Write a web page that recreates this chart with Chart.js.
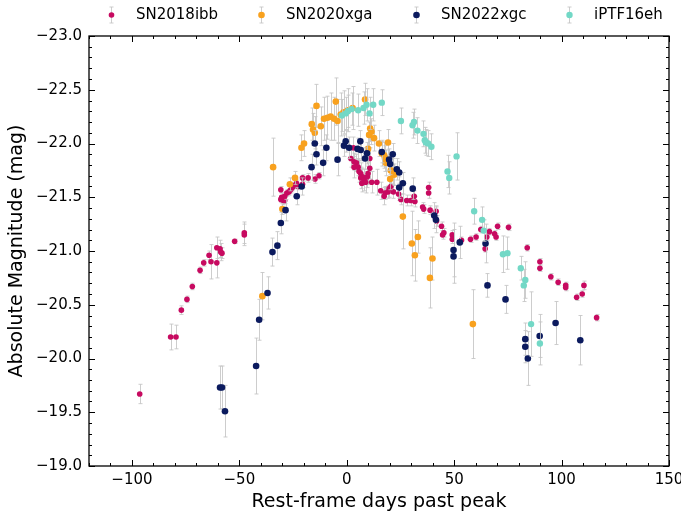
<!DOCTYPE html>
<html>
<head>
<meta charset="utf-8">
<script src="https://cdn.jsdelivr.net/npm/chart.js@4.4.0/dist/chart.umd.min.js"></script>
<style>
  html, body { margin: 0; padding: 0; background: #fff; }
</style>
</head>
<body>
<canvas id="lc" width="681" height="517"></canvas>
<script>
// light curves (days past peak, abs mag, 1-sigma)
var names = ["SN2018ibb", "SN2020xga", "SN2022xgc", "iPTF16eh"];
var colors = ["#c70a60", "#f8a11e", "#0b1a5e", "#72d8c6"];

var ibbDays = [-96.4,-82.0,-79.5,-77.0,-74.4,-71.9,-68.3,-66.6,-64.1,-63.2,-60.5,-60.5,-59.0,-58.7,-58.1,-52.2,-47.7,-47.7,
  -30.7,-30.3,-29.5,-28.9,-27.9,-26.9,-26.1,-25.3,-24.5,-23.4,-22.7,-20.6,-20.6,-18.0,-14.8,-12.9,-30.7,-28.9,
  1.9,3.1,3.4,4.5,3.4,5.3,5.7,6.5,6.5,7.3,8.1,7.0,8.8,9.6,10.7,10.7,9.9,11.6,14.0,15.8,
  17.4,17.8,19.2,19.7,20.5,21.7,24.1,25.2,27.9,29.8,31.7,31.4,35.3,35.8,38.1,38.1,38.8,41.6,41.8,44.1,
  44.6,45.2,49.1,49.1,53.4,57.6,60.2,62.4,64.4,65.2,66.4,68.8,69.5,70.2,75.3,84.0,89.9,89.9,95.0,98.4,
  101.9,101.9,107.0,109.6,110.4,116.3];
var ibbMag = [-19.67,-20.20,-20.20,-20.45,-20.55,-20.67,-20.82,-20.89,-20.96,-20.90,-21.03,-20.89,-21.02,-20.99,-20.98,-21.09,-21.17,-21.15,
  -21.57,-21.50,-21.47,-21.51,-21.54,-21.55,-21.57,-21.59,-21.61,-21.63,-21.60,-21.68,-21.62,-21.68,-21.67,-21.70,-21.48,-21.47,
  -21.86,-21.96,-21.83,-21.82,-21.78,-21.78,-21.74,-21.72,-21.68,-21.69,-21.66,-21.63,-21.64,-21.69,-21.77,-21.86,-21.72,-21.64,-21.64,-21.56,
  -21.51,-21.54,-21.55,-21.58,-21.60,-21.55,-21.53,-21.48,-21.47,-21.47,-21.46,-21.51,-21.41,-21.39,-21.59,-21.54,-21.38,-21.37,-21.28,-21.23,
  -21.15,-21.17,-21.15,-21.11,-21.10,-21.11,-21.13,-21.20,-21.02,-21.13,-21.18,-21.16,-21.13,-21.23,-21.22,-21.03,-20.90,-20.84,-20.76,-20.71,
  -20.68,-20.66,-20.57,-20.60,-20.68,-20.38];
var ibbErr = [0.09,0.12,0.11,0.04,0.03,0.03,0.03,0.03,0.04,0.16,0.1,0.14,0.08,0.08,0.05,0.02,0.1,0.1,
  0.03,0.04,0.04,0.03,0.03,0.03,0.03,0.03,0.03,0.03,0.03,0.03,0.03,0.04,0.04,0.03,0.03,0.03,
  0.08,0.1,0.08,0.08,0.1,0.08,0.1,0.1,0.1,0.08,0.1,0.08,0.1,0.1,0.1,0.1,0.1,0.1,0.12,0.08,
  0.08,0.06,0.06,0.08,0.06,0.06,0.06,0.05,0.05,0.05,0.05,0.05,0.04,0.04,0.05,0.05,0.04,0.05,0.05,0.04,
  0.04,0.04,0.04,0.04,0.03,0.03,0.03,0.03,0.03,0.03,0.03,0.03,0.03,0.03,0.03,0.03,0.03,0.03,0.03,0.03,
  0.03,0.03,0.03,0.03,0.04,0.03];

var xgaDays = [-39.3,-34.3,-30.0,-26.5,-24.1,-21.1,-19.9,-16.3,-15.7,-14.9,-14.1,-12.1,-10.6,-9.0,-7.5,-5.9,-5.1,-4.3,-2.8,-1.5,
  0.5,2.7,8.5,9.9,10.4,10.9,11.5,12.7,15.0,16.3,17.4,17.8,18.2,19.2,20.5,21.3,22.0,20.2,26.1,30.3,31.7,33.1,38.7,39.9,58.7];
var xgaMag = [-20.58,-21.78,-21.39,-21.62,-21.68,-21.96,-22.00,-22.18,-22.13,-22.10,-22.35,-22.16,-22.23,-22.24,-22.25,-22.23,-22.39,-22.21,-22.27,-22.29,
  -22.31,-22.33,-22.41,-21.95,-22.08,-22.14,-22.11,-22.05,-22.00,-21.91,-21.89,-21.86,-21.82,-22.01,-21.75,-21.74,-21.71,-21.67,-21.32,-21.07,-20.96,-21.13,-20.75,-20.93,-20.32];
var xgaErr = [0.22,0.27,0.05,0.06,0.06,0.12,0.12,0.15,0.15,0.15,0.2,0.18,0.2,0.2,0.22,0.2,0.22,0.2,0.2,0.2,
  0.2,0.2,0.15,0.12,0.12,0.12,0.12,0.12,0.12,0.12,0.12,0.12,0.12,0.12,0.12,0.12,0.1,0.1,0.3,0.3,0.24,0.15,0.28,0.2,0.32];

var xgcDays = [-59.0,-58.1,-56.7,-42.2,-40.8,-36.9,-34.6,-32.3,-30.7,-28.5,-23.3,-21.0,-16.4,-14.9,-14.1,-11.0,-9.5,-4.3,-1.3,-0.5,
  1.1,5.0,6.3,6.5,8.5,9.4,16.3,19.7,20.2,21.4,23.3,24.4,26.1,24.4,30.7,40.7,41.5,49.7,49.7,52.6,
  64.6,65.5,73.9,83.1,83.1,84.3,89.8,97.2,108.7];
var xgcMag = [-19.73,-19.73,-19.51,-19.93,-20.36,-20.61,-20.99,-21.05,-21.26,-21.38,-21.51,-21.60,-21.78,-22.00,-21.90,-21.82,-21.96,-21.85,-21.98,-22.02,
  -21.96,-21.95,-22.02,-21.94,-21.86,-21.91,-21.92,-21.85,-21.81,-21.90,-21.76,-21.73,-21.63,-21.59,-21.58,-21.33,-21.29,-21.01,-20.95,-21.08,
  -21.07,-20.68,-20.55,-20.18,-20.11,-20.00,-20.21,-20.33,-20.17];
var xgcErr = [0.2,0.2,0.24,0.26,0.19,0.15,0.13,0.13,0.1,0.1,0.08,0.08,0.12,0.12,0.1,0.12,0.12,0.15,0.1,0.1,
  0.1,0.1,0.1,0.1,0.1,0.1,0.1,0.1,0.1,0.1,0.1,0.1,0.1,0.1,0.1,0.12,0.12,0.25,0.25,0.15,
  0.18,0.11,0.13,0.15,0.15,0.25,0.2,0.2,0.23];

var ehDays = [-2.3,-0.5,0.5,2.3,5.3,7.8,9.2,10.6,12.3,16.3,25.2,30.6,31.3,32.9,35.7,36.3,36.8,37.9,39.4,46.9,
  47.7,51.1,59.3,63.0,63.7,72.7,74.8,81.0,83.1,82.4,85.8,89.9];
var ehMag = [-22.26,-22.28,-22.30,-22.32,-22.31,-22.33,-22.36,-22.28,-22.36,-22.38,-22.21,-22.17,-22.20,-22.12,-22.09,-22.03,-22.01,-22.00,-21.97,-21.74,
  -21.68,-21.88,-21.37,-21.29,-21.19,-20.97,-20.98,-20.84,-20.73,-20.68,-20.32,-20.14];
var ehErr = [0.15,0.15,0.15,0.15,0.15,0.15,0.15,0.15,0.15,0.12,0.12,0.12,0.12,0.12,0.12,0.12,0.12,0.12,0.12,0.15,
  0.15,0.22,0.12,0.12,0.1,0.17,0.15,0.11,0.17,0.15,0.3,0.2];

var xTicks = [-100, -50, 0, 50, 100, 150];
var yTicks = [-23.0, -22.5, -22.0, -21.5, -21.0, -20.5, -20.0, -19.5, -19.0];

function pts(d, m, e) {
  var out = [];
  for (var i = 0; i < d.length; i++) out.push({x: d[i], y: m[i], err: e[i]});
  return out;
}

var series = [pts(ibbDays, ibbMag, ibbErr), pts(xgaDays, xgaMag, xgaErr), pts(xgcDays, xgcMag, xgcErr), pts(ehDays, ehMag, ehErr)];
var radii = [2.8, 3.3, 3.3, 3.2];

var ERR_COL = "rgba(196,196,196,0.85)";
var FONT = "'DejaVu Sans', sans-serif";

function minus(s) { return String(s).replace('-', '\u2212'); }

// grey error bars, drawn right before each set of markers
var errorBars = {
  id: 'errorBars',
  beforeDatasetDraw: function(chart, args) {
    var ds = chart.data.datasets[args.index];
    var xs = chart.scales.x, ys = chart.scales.y;
    var ctx = chart.ctx;
    ctx.save();
    ctx.strokeStyle = ERR_COL;
    ctx.lineWidth = 1;
    ds.data.forEach(function(p) {
      var px = Math.round(xs.getPixelForValue(p.x)) + 0.5;
      var y1 = ys.getPixelForValue(p.y - p.err);
      var y2 = ys.getPixelForValue(p.y + p.err);
      ctx.beginPath();
      ctx.moveTo(px, y1); ctx.lineTo(px, y2);
      ctx.moveTo(px - 2, y1); ctx.lineTo(px + 2, y1);
      ctx.moveTo(px - 2, y2); ctx.lineTo(px + 2, y2);
      ctx.stroke();
    });
    ctx.restore();
  }
};

// box frame and inward ticks on all four sides
var frame = {
  id: 'frame',
  afterDatasetsDraw: function(chart) {
    var a = chart.chartArea, ctx = chart.ctx;
    var xs = chart.scales.x, ys = chart.scales.y;
    ctx.save();
    ctx.strokeStyle = '#000';
    ctx.lineWidth = 1;
    ctx.beginPath();
    var v, p, len;
    for (v = -120; v <= 150; v += 10) {
      p = Math.round(xs.getPixelForValue(v)) + 0.5;
      len = (v % 50 === 0) ? 6 : 3;
      ctx.moveTo(p, a.bottom); ctx.lineTo(p, a.bottom - len);
      ctx.moveTo(p, a.top); ctx.lineTo(p, a.top + len);
    }
    for (var k = 0; k <= 40; k++) {
      v = -23 + k * 0.1;
      p = Math.round(ys.getPixelForValue(v)) + 0.5;
      len = (k % 5 === 0) ? 6 : 3;
      ctx.moveTo(a.left, p); ctx.lineTo(a.left + len, p);
      ctx.moveTo(a.right, p); ctx.lineTo(a.right - len, p);
    }
    ctx.stroke();
    ctx.lineWidth = 1.3;
    ctx.strokeRect(a.left, a.top, a.right - a.left, a.bottom - a.top);
    ctx.restore();
  }
};

// legend row: marker with error bar, then name
var legendRow = {
  id: 'legendRow',
  afterDraw: function(chart) {
    var ctx = chart.ctx;
    var xs = [111, 261, 416, 569], y = 15;
    ctx.save();
    ctx.font = '15px ' + FONT;
    ctx.textBaseline = 'middle';
    ctx.fillStyle = '#000';
    names.forEach(function(n, i) {
      var x = xs[i] + 0.5;
      ctx.strokeStyle = ERR_COL;
      ctx.lineWidth = 1;
      ctx.beginPath();
      ctx.moveTo(x, y - 8); ctx.lineTo(x, y + 8);
      ctx.moveTo(x - 2, y - 8); ctx.lineTo(x + 2, y - 8);
      ctx.moveTo(x - 2, y + 8); ctx.lineTo(x + 2, y + 8);
      ctx.stroke();
      ctx.fillStyle = colors[i];
      ctx.beginPath();
      ctx.arc(x, y, radii[i], 0, Math.PI * 2);
      ctx.fill();
      ctx.fillStyle = '#000';
      ctx.fillText(n, xs[i] + 25, y);
    });
    ctx.restore();
  }
};

var datasets = series.map(function(d, i) {
  return {
    label: names[i],
    data: d,
    backgroundColor: colors[i],
    borderWidth: 0,
    pointRadius: radii[i],
    pointHoverRadius: radii[i],
    order: 4 - i
  };
});

new Chart(document.getElementById('lc'), {
  type: 'scatter',
  data: { datasets: datasets },
  plugins: [errorBars, frame, legendRow],
  options: {
    responsive: false,
    animation: false,
    devicePixelRatio: 1,
    layout: { padding: { top: 36, right: 12, left: 0, bottom: 0 } },
    plugins: { legend: { display: false }, tooltip: { enabled: false } },
    scales: {
      x: {
        type: 'linear',
        min: -120, max: 150,
        grid: { display: false, drawTicks: false },
        border: { display: false },
        afterBuildTicks: function(s) { s.ticks = xTicks.map(function(v) { return {value: v}; }); },
        afterFit: function(s) { s.height = 51; s.paddingLeft = 0; s.paddingRight = 0; },
        ticks: {
          padding: 5,
          color: '#000',
          font: { family: FONT, size: 15 },
          callback: function(v) { return minus(v); }
        },
        title: {
          display: true,
          text: 'Rest-frame days past peak',
          color: '#000',
          font: { family: FONT, size: 19 },
          padding: { top: 0, bottom: 4 }
        }
      },
      y: {
        type: 'linear',
        reverse: true,
        min: -23, max: -19,
        grid: { display: false, drawTicks: false },
        border: { display: false },
        afterBuildTicks: function(s) { s.ticks = yTicks.map(function(v) { return {value: v}; }); },
        afterFit: function(s) { s.width = 89; },
        ticks: {
          padding: 7,
          color: '#000',
          font: { family: FONT, size: 15 },
          callback: function(v) { return minus(v.toFixed(1)); }
        },
        title: {
          display: true,
          text: 'Absolute Magnitude (mag)',
          color: '#000',
          font: { family: FONT, size: 19 },
          padding: { top: 6, bottom: 0 }
        }
      }
    }
  }
});
</script>
</body>
</html>
